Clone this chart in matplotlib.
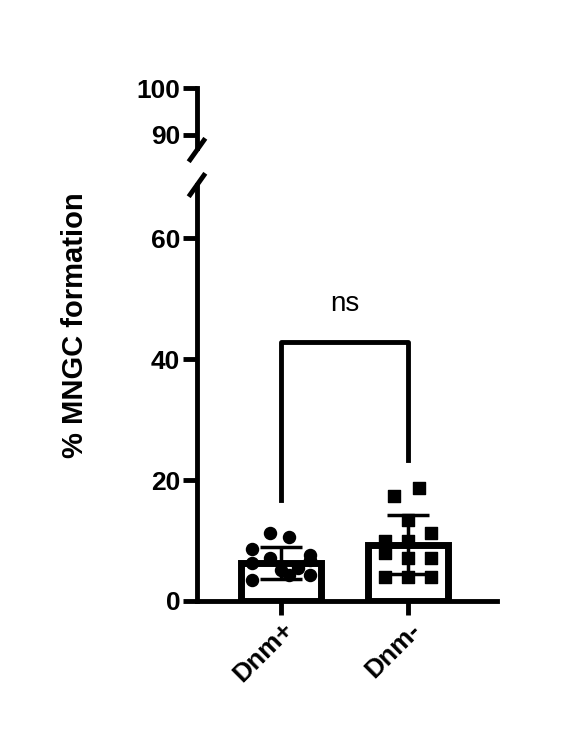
import matplotlib
matplotlib.use("Agg")
import matplotlib.pyplot as plt
import numpy as np

plt.rcParams['font.family'] = ['Liberation Sans', 'DejaVu Sans']
plt.rcParams['font.weight'] = 'bold'

categories = ["Dnm+", "Dnm-"]
dnm_plus = [11.2, 10.6, 8.6, 7.6, 7.1, 6.8, 6.3, 5.1, 4.3, 3.5, 5.5, 4.3]
dnm_minus = [18.7, 17.4, 13.4, 11.2, 10.0, 10.0, 7.9, 7.1, 7.1, 4.0, 4.0, 4.0]
means = [6.3, 9.3]
sds = [2.6, 4.9]
plus_x = [-0.1, 0.07, -0.25, 0.25, -0.1, 0.25, -0.25, 0.0, 0.07, -0.25, 0.15, 0.25]
minus_x = [0.1, -0.12, 0.0, 0.2, -0.2, 0.0, -0.2, 0.0, 0.2, -0.2, 0.0, 0.2]

fig = plt.figure(figsize=(5.75, 7.48), dpi=100)
L, R = 197/575, 497/575
axb = fig.add_axes([L, 147/748, R-L, 416/748])
axt = fig.add_axes([L, 600/748, R-L, 60/748])
lw = 3.5
for ax in (axb, axt):
    ax.set_xlim(-0.661, 1.70)
    for s in ('top', 'right'):
        ax.spines[s].set_visible(False)
    ax.spines['left'].set_linewidth(lw)
    ax.tick_params(width=lw, length=10, labelsize=19, pad=2)
axt.spines['bottom'].set_visible(False)
axt.set_xticks([])
axt.set_ylim(87.2, 100)
axt.set_yticks([90, 100])
axb.set_ylim(0, 68.8)
axb.set_yticks([0, 20, 40, 60])
axb.spines['bottom'].set_linewidth(lw)
axb.spines['bottom'].set_bounds(-0.661, 1.70)
axb.set_xticks([0, 1])
axb.set_xticklabels(categories, rotation=45, ha='right', rotation_mode='anchor', fontsize=19)

xs = np.arange(2)
axb.bar(xs, means, width=0.63, facecolor='white', edgecolor='black', linewidth=5, zorder=2)
axb.errorbar(xs, means, yerr=sds, fmt='none', ecolor='black', elinewidth=2.5, capsize=15, capthick=2.5, zorder=4)
axb.scatter(np.array(plus_x)*0.9, dnm_plus, s=75, marker='o', color='black', zorder=3)
axb.scatter(1 + np.array(minus_x)*0.9, dnm_minus, s=75, marker='s', color='black', zorder=3)

axb.plot([0, 0, 1, 1], [16.7, 42.8, 42.8, 23.3], color='black', lw=lw, clip_on=False)
axb.text(0.5, 47, "ns", ha='center', va='bottom', fontsize=20, fontweight='normal')

fig.text(0.13, 0.565, "% MNGC formation", rotation=90, ha='center', va='center', fontsize=21, fontweight='bold')

for yp in (150, 185):
    yf = 1 - yp/748
    fig.add_artist(plt.Line2D([L - 0.012, L + 0.012], [yf - 0.013, yf + 0.013], color='black', lw=lw))

fig.savefig("out.png", dpi=100)
